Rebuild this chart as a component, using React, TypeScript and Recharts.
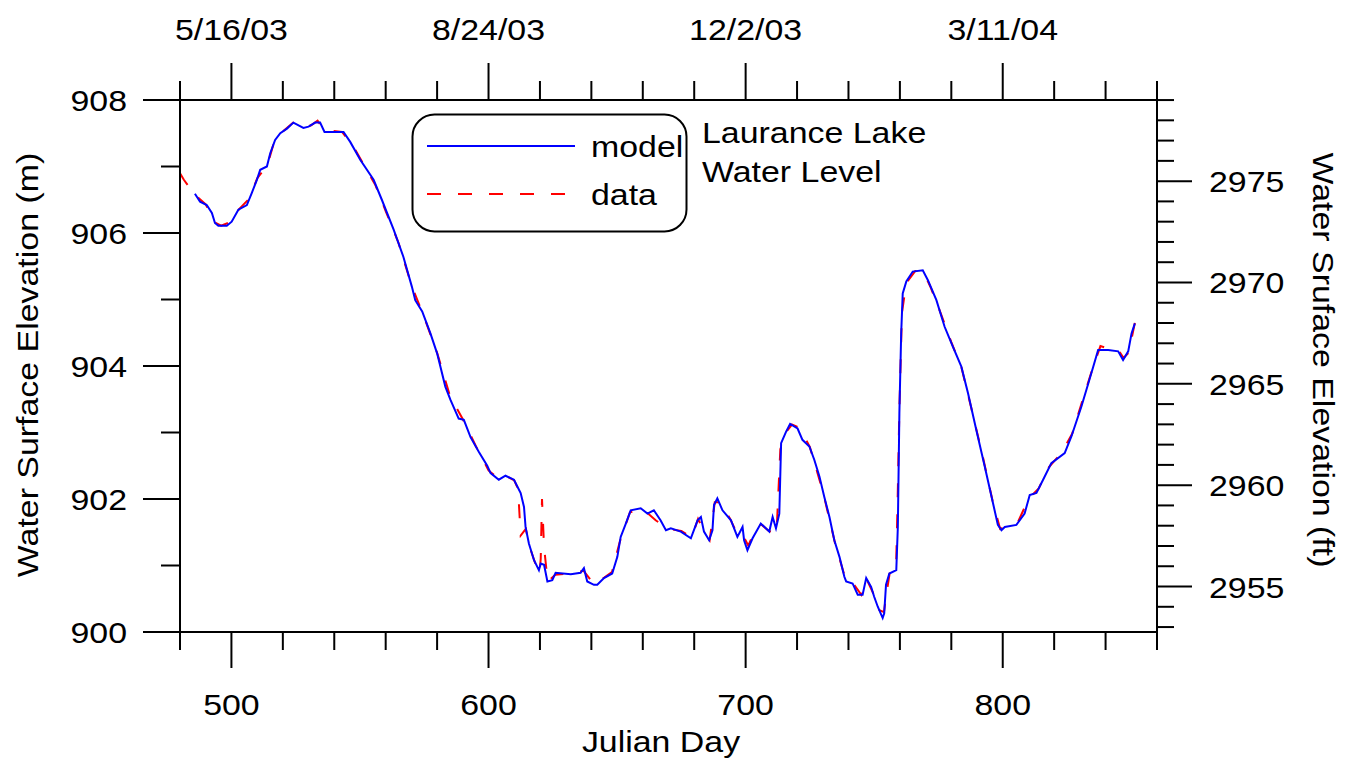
import React from 'react'
import { ComposedChart, Line, XAxis, YAxis, Legend } from 'recharts'

// Julian day axis
const dayTicks = [480, 500, 520, 540, 560, 580, 600, 620, 640, 660, 680, 700, 720, 740, 760, 780, 800, 820, 840, 860]
const dateTickDays = [500, 600, 700, 800]
const dateTickLabels = ['5/16/03', '8/24/03', '12/2/03', '3/11/04']

// elevation axes
const meterTicks = [900, 901, 902, 903, 904, 905, 906, 907, 908]
const feetTicks = [
  2953, 2954, 2955, 2956, 2957, 2958, 2959, 2960, 2961, 2962, 2963, 2964, 2965, 2966,
  2967, 2968, 2969, 2970, 2971, 2972, 2973, 2974, 2975, 2976, 2977, 2978, 2979,
]
const M_TO_FT = 3.28084

// model water level (m)
const modelDays = [
  485.8, 487.8, 490.4, 492.4, 493.6, 494.9, 498.2, 500.1, 502.7, 506.0,
  507.9, 509.9, 511.2, 513.8, 515.1, 517.0, 519.0, 521.6, 524.1, 528.0,
  530.0, 532.6, 534.5, 536.2, 543.6, 546.2, 550.1, 555.3, 558.5, 563.1,
  566.9, 570.2, 571.5, 574.2, 577.4, 580.0, 583.2, 585.2, 588.4, 590.4,
  593.0, 596.2, 599.5, 600.8, 604.0, 606.6, 609.9, 612.5, 613.8, 614.4,
  615.7, 617.7, 619.6, 620.3, 621.6, 622.9, 624.8, 626.1, 632.0, 635.8,
  637.1, 638.4, 641.0, 642.3, 644.9, 648.1, 650.1, 651.4, 653.4, 655.3,
  659.2, 661.8, 664.3, 666.9, 669.0, 670.9, 674.8, 678.7, 681.3, 682.6,
  683.8, 685.8, 687.1, 687.7, 689.0, 691.0, 694.3, 696.8, 698.8, 699.4,
  700.7, 702.7, 705.9, 709.2, 710.5, 711.8, 713.1, 713.8, 715.7, 717.3,
  720.2, 722.1, 724.8, 726.7, 728.7, 730.6, 732.6, 734.5, 736.5, 738.4,
  739.1, 741.6, 743.6, 745.5, 746.9, 748.8, 750.0, 751.4, 753.3, 753.9,
  754.6, 755.9, 758.6, 759.2, 759.8, 760.5, 761.1, 762.5, 765.0, 768.9,
  770.9, 774.2, 777.4, 780.6, 783.9, 786.5, 789.7, 793.0, 796.2, 798.1,
  799.5, 800.8, 805.3, 808.5, 810.5, 813.1, 815.7, 818.9, 824.1, 826.7,
  830.6, 833.3, 835.2, 837.1, 841.0, 844.9, 846.8, 848.8, 850.1, 851.4,
]
const modelLevels = [
  906.59, 906.47, 906.42, 906.30, 906.15, 906.11, 906.11, 906.17, 906.35, 906.42,
  906.60, 906.80, 906.95, 907.00, 907.20, 907.40, 907.50, 907.57, 907.66, 907.58,
  907.60, 907.66, 907.66, 907.52, 907.52, 907.37, 907.10, 906.80, 906.50, 906.05,
  905.64, 905.19, 904.99, 904.82, 904.49, 904.19, 903.69, 903.49, 903.21, 903.19,
  902.93, 902.71, 902.50, 902.39, 902.29, 902.35, 902.29, 902.09, 901.88, 901.58,
  901.33, 901.08, 900.93, 901.03, 901.01, 900.76, 900.78, 900.89, 900.87, 900.89,
  900.96, 900.76, 900.71, 900.71, 900.81, 900.88, 901.13, 901.43, 901.63, 901.83,
  901.86, 901.78, 901.83, 901.68, 901.53, 901.56, 901.51, 901.41, 901.68, 901.73,
  901.51, 901.38, 901.53, 901.91, 902.01, 901.83, 901.68, 901.43, 901.58, 901.38,
  901.23, 901.41, 901.63, 901.51, 901.73, 901.56, 901.78, 902.84, 903.01, 903.13,
  903.06, 902.89, 902.79, 902.59, 902.34, 902.03, 901.73, 901.38, 901.13, 900.83,
  900.76, 900.73, 900.56, 900.56, 900.81, 900.68, 900.53, 900.38, 900.21, 900.28,
  900.71, 900.88, 900.93, 901.58, 903.29, 904.49, 905.09, 905.27, 905.42, 905.44,
  905.29, 904.99, 904.59, 904.29, 903.99, 903.59, 903.04, 902.49, 901.94, 901.61,
  901.53, 901.58, 901.61, 901.78, 902.06, 902.09, 902.29, 902.54, 902.69, 902.94,
  903.39, 903.74, 903.99, 904.24, 904.24, 904.22, 904.09, 904.22, 904.49, 904.64,
]

// measured water level (m)
const obsDays = [
  480, 481.5, 483, 484, 486, 490, 493.5, 496, 500, 503,
  507, 510, 514, 517, 521, 524, 528, 531, 533.5, 536,
  543, 547, 551, 556, 560, 565, 570, 575, 580, 585,
  590, 595, 600, 604, 607, 610, 611.5, 612.5, 614.5, 616,
  618, 619.8, 620.3, 620.8, 621.6, 623, 626, 632, 637, 641,
  645, 648, 651, 655, 660, 665, 670, 675, 679, 681.5,
  684, 686, 688, 690, 694, 697, 699, 701, 704, 706,
  709, 712, 713.5, 716, 718, 721, 725, 730, 735, 739,
  742, 745, 747, 750, 752, 753.8, 754.4, 756, 758.5, 759.1,
  759.8, 760.8, 762.5, 766, 769, 772, 776, 780, 784, 788,
  792, 796, 799, 802, 806, 810, 814, 818, 823, 827,
  831, 835, 838, 842, 845, 847, 849, 851.5,
]
const obsLevels = [
  906.90, 906.80, 906.72, 906.62, 906.57, 906.43, 906.16, 906.11, 906.17, 906.36,
  906.52, 906.82, 907.02, 907.42, 907.56, 907.66, 907.58, 907.62, 907.69, 907.55,
  907.52, 907.33, 907.06, 906.72, 906.33, 905.85, 905.22, 904.73, 904.20, 903.55,
  903.20, 902.80, 902.43, 902.30, 902.34, 902.28, 902.15, 901.45, 901.55, 901.28,
  901.05, 900.88, 901.10, 902.00, 901.28, 900.76, 900.86, 900.88, 900.92, 900.72,
  900.82, 900.90, 901.35, 901.80, 901.85, 901.68, 901.55, 901.52, 901.42, 901.70,
  901.50, 901.38, 901.95, 901.95, 901.70, 901.45, 901.45, 901.30, 901.55, 901.62,
  901.52, 901.48, 902.75, 903.02, 903.12, 903.07, 902.78, 902.12, 901.30, 900.78,
  900.72, 900.56, 900.80, 900.55, 900.33, 900.30, 900.48, 900.88, 900.95, 901.95,
  903.35, 904.80, 905.25, 905.43, 905.43, 905.18, 904.78, 904.36, 903.97, 903.33,
  902.68, 901.98, 901.55, 901.60, 901.66, 902.00, 902.16, 902.48, 902.70, 902.98,
  903.48, 903.97, 904.30, 904.25, 904.24, 904.12, 904.20, 904.67,
]

// model is plotted on the top / right (feet) axes so those axes get a series too
const modelData = modelDays.map((day, i) => ({ day, levelFt: modelLevels[i] * M_TO_FT }))
const obsData = obsDays.map((day, i) => ({ day, level: obsLevels[i] }))

const FONT = "'Liberation Sans', Arial, Helvetica, sans-serif"
const STRETCH = 1.13

// the original lettering is a bit wider than Arial, so stretch it horizontally
const Txt = ({ x, y, anchor = 'middle', rotate = 0, children }: any) => (
  <text
    transform={`translate(${x},${y}) rotate(${rotate}) scale(${STRETCH},1)`}
    textAnchor={anchor}
    fontFamily={FONT}
    fontSize={30}
    fill="#000"
  >
    {children}
  </text>
)

const BottomTick = ({ x, y, payload }: any) => {
  const major = payload.value % 100 === 0
  return (
    <g>
      <line x1={x} y1={y} x2={x} y2={y + (major ? 36 : 18)} stroke="#000" strokeWidth={2} />
      {major && <Txt x={x} y={y + 83}>{payload.value}</Txt>}
    </g>
  )
}

const TopTick = ({ x, y, payload }: any) => {
  const idx = dateTickDays.indexOf(payload.value)
  const major = idx >= 0
  return (
    <g>
      <line x1={x} y1={y} x2={x} y2={y - (major ? 37 : 19)} stroke="#000" strokeWidth={2} />
      {major && <Txt x={x} y={y - 60}>{dateTickLabels[idx]}</Txt>}
    </g>
  )
}

const LeftTick = ({ x, y, payload }: any) => {
  const major = payload.value % 2 === 0
  return (
    <g>
      <line x1={x} y1={y} x2={x - (major ? 37 : 19)} y2={y} stroke="#000" strokeWidth={2} />
      {major && <Txt x={x - 53} y={y + 11} anchor="end">{payload.value}</Txt>}
    </g>
  )
}

const RightTick = ({ x, y, payload }: any) => {
  const major = payload.value % 5 === 0
  return (
    <g>
      <line x1={x} y1={y} x2={x + (major ? 35 : 17)} y2={y} stroke="#000" strokeWidth={2} />
      {major && <Txt x={x + 52} y={y + 11} anchor="start">{payload.value}</Txt>}
    </g>
  )
}

const LegendBox = () => (
  <svg width={1352} height={762} style={{ display: 'block' }}>
    <rect x={412.5} y={114.5} width={274} height={117} rx={22} fill="#fff" stroke="#000" strokeWidth={2} />
    <line x1={427} y1={146} x2={575} y2={146} stroke="#0000ff" strokeWidth={2} />
    <line x1={427} y1={194} x2={566} y2={194} stroke="#ff0000" strokeWidth={2} strokeDasharray="14 17" />
    <Txt x={591} y={157} anchor="start">model</Txt>
    <Txt x={591} y={205} anchor="start">data</Txt>
    <Txt x={702} y={143} anchor="start">Laurance Lake</Txt>
    <Txt x={702} y={182} anchor="start">Water Level</Txt>
  </svg>
)

const axisLine = { stroke: '#000', strokeWidth: 2 }

export default function App() {
  return (
    <div style={{ position: 'absolute', left: 0, top: 0, width: 1352, height: 762, background: '#fff' }}>
      <ComposedChart width={1352} height={762} margin={{ top: 0, right: 0, bottom: 0, left: 0 }}>
        <XAxis
          xAxisId="day"
          dataKey="day"
          type="number"
          domain={[480, 860]}
          ticks={dayTicks}
          interval={0}
          height={130}
          tickSize={0}
          tickMargin={0}
          tickLine={false}
          axisLine={axisLine}
          tick={BottomTick}
          label={() => <Txt x={661} y={752}>Julian Day</Txt>}
        />
        <XAxis
          xAxisId="date"
          dataKey="day"
          orientation="top"
          type="number"
          domain={[480, 860]}
          ticks={dayTicks}
          interval={0}
          height={100}
          tickSize={0}
          tickMargin={0}
          tickLine={false}
          axisLine={axisLine}
          tick={TopTick}
        />
        <YAxis
          yAxisId="m"
          type="number"
          domain={[900, 908]}
          ticks={meterTicks}
          interval={0}
          width={180}
          tickSize={0}
          tickMargin={0}
          tickLine={false}
          axisLine={axisLine}
          tick={LeftTick}
          label={() => (
            <Txt x={38} y={365} rotate={-90}>Water Surface Elevation (m)</Txt>
          )}
        />
        <YAxis
          yAxisId="ft"
          orientation="right"
          type="number"
          domain={[900 * M_TO_FT, 908 * M_TO_FT]}
          ticks={feetTicks}
          interval={0}
          width={195}
          tickSize={0}
          tickMargin={0}
          tickLine={false}
          axisLine={axisLine}
          tick={RightTick}
          label={() => (
            <Txt x={1313} y={360} rotate={90}>Water Sruface Elevation (ft)</Txt>
          )}
        />
        <Legend
          layout="vertical"
          align="center"
          verticalAlign="middle"
          content={LegendBox}
          wrapperStyle={{ left: 0, top: 0, width: 1352, height: 762, pointerEvents: 'none' }}
        />
        <Line
          xAxisId="day"
          yAxisId="m"
          data={obsData}
          dataKey="level"
          type="linear"
          stroke="#ff0000"
          strokeWidth={2}
          strokeDasharray="14 17"
          dot={false}
          isAnimationActive={false}
        />
        <Line
          xAxisId="date"
          yAxisId="ft"
          data={modelData}
          dataKey="levelFt"
          type="linear"
          stroke="#0000ff"
          strokeWidth={2}
          dot={false}
          isAnimationActive={false}
        />
      </ComposedChart>
    </div>
  )
}
